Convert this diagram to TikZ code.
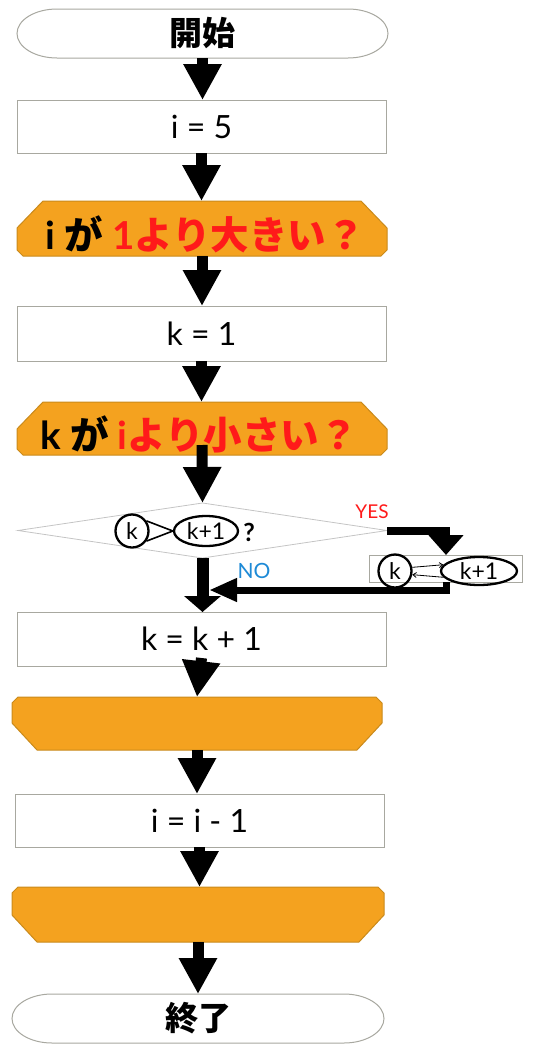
\documentclass[tikz,border=0pt]{standalone}
\usepackage{fontspec}
\setmainfont{Lato}
\newfontfamily\cjk{Noto Sans CJK JP}
\usetikzlibrary{arrows.meta,backgrounds,shapes.geometric}
\definecolor{boxgray}{HTML}{A8A8A0}
\definecolor{diagray}{HTML}{C4C4C4}
\definecolor{loopfill}{HTML}{F4A21F}
\definecolor{loopedge}{HTML}{C98A1B}
\definecolor{yesred}{HTML}{FF1A1A}
\definecolor{noblue}{HTML}{1E8AD6}
\tikzset{
  frame/.style={draw=none, inner sep=0pt, outer sep=0pt},
  procline/.style={draw=boxgray, line width=1pt, fill=white},
  loopline/.style={draw=loopedge, line width=1pt, fill=loopfill},
  dialine/.style={draw=diagray, line width=0.8pt},
  procfont/.style={font=\fontsize{32pt}{36pt}\selectfont},
  termfont/.style={font=\cjk\bfseries\fontsize{33pt}{36pt}\selectfont},
  headfont/.style={font=\bfseries\fontsize{38.5pt}{42pt}\selectfont, inner sep=0pt},
  circk/.style={circle, draw=black, line width=2.3pt, minimum size=33pt, inner sep=0pt, font=\fontsize{23pt}{25pt}\selectfont},
  ellk/.style={ellipse, draw=black, line width=2.3pt, inner sep=0pt, font=\fontsize{23pt}{25pt}\selectfont},
  flow/.style={line width=11pt, -{Triangle[width=36pt,length=36pt]}},
  yesflow/.style={line width=8pt, -{Triangle[width=34pt,length=20pt]}},
  retflow/.style={line width=7pt, -{Triangle[width=22pt,length=28pt]}},
  noflow/.style={line width=12pt, -{Triangle[width=36pt,length=16pt]}},
  swaparrow/.style={line width=0.8pt, -{Straight Barb[length=3.5pt,width=5pt]}},
}
\newcommand\termshape[1]{\path[procline] ([xshift=40pt]#1.north west) -- ([xshift=-40pt]#1.north east) arc[start angle=90,end angle=-90,x radius=40pt,y radius=24.5pt] -- ([xshift=40pt]#1.south west) arc[start angle=270,end angle=90,x radius=40pt,y radius=24.5pt] -- cycle;}
\newcommand\loophead[1]{\path[loopline] ([xshift=26pt]#1.north west) -- ([xshift=-26pt]#1.north east) -- ([yshift=-27pt]#1.north east) -- ([yshift=6pt]#1.south east) -- ([xshift=-6pt]#1.south east) -- ([xshift=6pt]#1.south west) -- ([yshift=6pt]#1.south west) -- ([yshift=-27pt]#1.north west) -- cycle;}
\newcommand\loopend[1]{\path[loopline] ([xshift=6pt]#1.north west) -- ([xshift=-6pt]#1.north east) -- ([yshift=-6pt]#1.north east) -- ([yshift=27pt]#1.south east) -- ([xshift=-25pt]#1.south east) -- ([xshift=25pt]#1.south west) -- ([yshift=27pt]#1.south west) -- ([yshift=-6pt]#1.north west) -- cycle;}
\begin{document}
\begin{tikzpicture}[x=1pt,y=1pt]
\useasboundingbox (0,0) rectangle (534,-1044);
% nodes
\node[frame, termfont, minimum width=371pt, minimum height=49pt] (start) at (202.5,-33.5) {開始};
\node[frame, procfont, minimum width=369pt, minimum height=53pt] (i5) at (201.5,-126.5) {i = 5};
\node[frame, minimum width=370pt, minimum height=55pt] (h1) at (202,-228.5) {};
\node[headfont, anchor=base] (h1t) at (205,-249) {i {\cjk が} \textcolor{yesred}{1{\cjk より大きい？}}};
\node[frame, procfont, minimum width=369pt, minimum height=55pt] (k1) at (201.5,-333.5) {k = 1};
\node[frame, minimum width=370pt, minimum height=53pt] (h2) at (202,-428.5) {};
\node[headfont, anchor=base] (h2t) at (199,-449) {k {\cjk が} \textcolor{yesred}{i{\cjk より小さい？}}};
\node[frame, minimum width=369pt, minimum height=55pt] (dia) at (202.5,-530.5) {};
\node[circk] (dk) at (132,-531) {k};
\node[ellk, minimum width=64pt, minimum height=30pt] (dk1) at (206,-531) {k+1};
\node[font=\bfseries\fontsize{25pt}{27pt}\selectfont, inner sep=0pt] (dq) at (249,-532) {?};
\node[frame, draw=boxgray, line width=0.8pt, minimum width=153pt, minimum height=27pt] (swap) at (446,-568.5) {};
\node[circk] (sk) at (395,-571) {k};
\node[ellk, minimum width=76pt, minimum height=28pt] (sk1) at (479,-571) {k+1};
\node[text=yesred, font=\fontsize{19pt}{21pt}\selectfont] (yes) at (372,-512) {YES};
\node[text=noblue, font=\fontsize{21pt}{23pt}\selectfont] (no) at (254,-571) {NO};
\node[frame, procfont, minimum width=369pt, minimum height=54pt] (kk1) at (201.5,-639) {k = k + 1};
\node[frame, minimum width=370pt, minimum height=53pt] (le1) at (197,-723.5) {};
\node[frame, procfont, minimum width=369pt, minimum height=53pt] (ii1) at (199.5,-820.5) {i = i - 1};
\node[frame, minimum width=372pt, minimum height=55pt] (le2) at (198,-914.5) {};
\node[frame, termfont, minimum width=372pt, minimum height=49pt] (end) at (198,-1018.5) {終了};
\coordinate (merge) at (209,-590);
% shapes on background
\begin{pgfonlayer}{background}
\termshape{start}
\path[procline] (i5.north west) rectangle (i5.south east);
\loophead{h1}
\path[procline] (k1.north west) rectangle (k1.south east);
\loophead{h2}
\path[dialine] (dia.west) -- (dia.north) -- (dia.east) -- (dia.south) -- cycle;
\path[procline] (kk1.north west) rectangle (kk1.south east);
\loopend{le1}
\path[procline] (ii1.north west) rectangle (ii1.south east);
\loopend{le2}
\termshape{end}
\end{pgfonlayer}
% comparison marks
\draw[line width=1.6pt] (dk.35) -- (dk1.west) -- (dk.-35);
\draw[swaparrow] (sk.12) -- (sk1.170);
\draw[swaparrow] (sk1.190) -- (sk.-12);
% connectors
\draw[flow] (start.south) -- (start.south |- i5.north);
\draw[flow] (i5.south) -- (i5.south |- h1.north);
\draw[flow] (h1.south) -- (h1.south |- k1.north);
\draw[flow] (k1.south) -- (k1.south |- h2.north);
\draw[flow] ([yshift=10pt]h2.south) -- (dia.north);
\draw[yesflow] (dia.east) -| (swap.north);
\draw[retflow] (swap.south) |- (merge);
\draw[noflow] (dia.south) -- (dia.south |- kk1.north);
\draw[flow] ([yshift=8pt]kk1.south) -- (le1.north);
\draw[flow] (le1.south) -- (le1.south |- ii1.north);
\draw[flow] (ii1.south) -- (ii1.south |- le2.north);
\draw[flow] (le2.south) -- (le2.south |- end.north);
\end{tikzpicture}
\end{document}
